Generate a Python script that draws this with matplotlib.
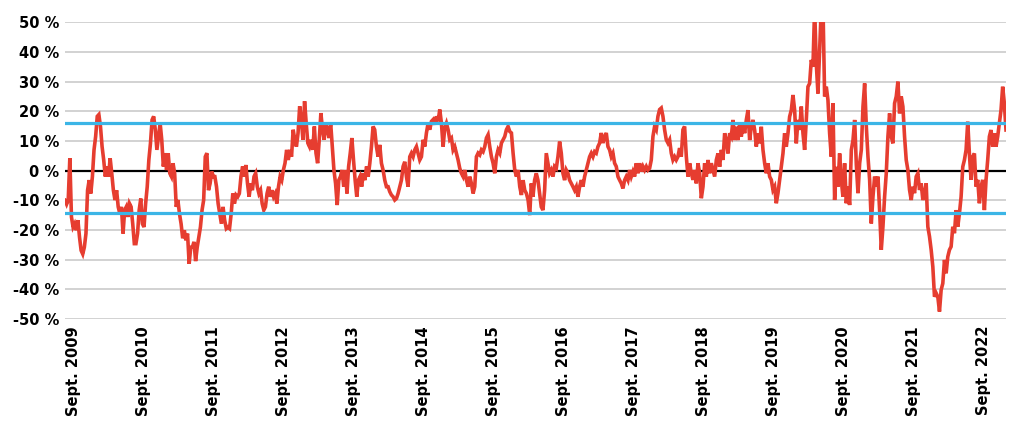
import matplotlib
matplotlib.use("Agg")
import matplotlib.pyplot as plt
import pandas as pd

# rolling return series in six stretches (start, end, values in %)
seg_2009_2011 = ("2009-07-19", "2011-09-01", [
    -10, -11.3, -9.9, 4.2, -15.6, -19, -17.9, -20.1, -16.7, -22.4, -26.9, -28.1, -25.8, -21.2,
    -6.6, -3.2, -7.7, -2.0, 7.0, 11.5, 18.3, 18.9, 14.9, 8.1, 3.6,
    -2.0, 1.4, -2.0, 4.2, -0.9, -6.6, -9.9, -6.6, -12.2, -14.5, -12.2, -21.2, -13.3, -12.2,
    -15.6, -11.1, -12.2, -17.9, -24.6, -24.6, -21.2, -13.3, -9.4, -17.9, -19,
    -11.1, -5.4, 3.6, 9.2, 17.1, 18.3, 13.8, 7.0, 11.5, 16,
    10.4, 1.4, 5.9, 0.2, 5.9, -0.9, -2.0, 2.5, -0.9, -12.2, -9.9, -14.5, -17.9, -22.8, -20.1,
    -23.5, -21.2, -31.4, -25.8, -25.8, -24, -30.5, -25.8, -22.4, -19, -13.3, -9.9, 4.7,
    5.9, -6.6, -4.3, -0.3, -2.0])

seg_2011_2013 = ("2011-09-09", "2013-12-21", [
    -2.0, -5.4, -11.1, -14.5, -17.9, -12.2, -16.7, -19.5, -19, -19.5, -14.5, -7.7, -11.1, -8.2,
    -8.8, -7.7, -2.0, 1.4, -2.0, 1.9, -4.3, -8.8, -4.3, -6.6, -2.0, -0.9, -5.4, -7.7, -6.6,
    -11.1, -13.3, -12.2, -7.7, -5.4, -8.8, -6.6, -8.8, -7.7, -11.1, -5.4, -2.0, -3.2, 0.2,
    2.5, 7.0, 3.6, 7.0, 4.7, 13.8, 10.4, 8.1, 12.7,
    21.7, 17.2, 10.4, 23.4, 16, 9.3,
    8.1, 10.4, 7.0, 14.9, 5.9, 2.5, 10.4, 19.4, 13.8, 10.4, 16, 13.8, 11, 16, 8.1, 0.2,
    -4.3, -11.6, -3.2, -2.0, 0.2, -5.4, 0.2, -7.7, 1.4, 5.9, 11, 3.6,
    -3.2, -8.8, -3.2, -2.0, -5.4, -0.9, -3.2, 1.4, -2.0, 2.5, 8.1, 14.9, 13.8])

seg_2013_2016 = ("2013-12-30", "2016-03-09", [
    8.1, 4.7, 8.7, 2.5, 0.2, -3.2, -5.4, -5.4, -7.1, -8.2, -8.8, -9.9, -9.4, -7.7, -5.4,
    -3.2, 1.4, 3.0, -2.0, -5.4, 4.7, 5.9, 4.7, 7.0, 8.1, 5.9, 3.6, 4.7, 10.4, 8.1, 12.7,
    16, 13.8, 16.6, 17.2, 15.5, 18.3, 16.6, 20.6, 16, 8.1, 14.4, 16, 13.8, 10.4, 11, 7.0,
    8.1, 5.9, 3.6, 0.8, -0.9, -2.0, 0.2, -3.2, -5.4, -2.0, -4.3, -7.7, -5.4, 4.7, 5.9,
    5.3, 7.0, 6.4, 8.1, 11, 12.1, 8.1, 4.7, 2.5, -0.9, 4.7, 7.0, 5.9, 9.3, 10.4, 11.5,
    13.8, 14.9, 13.2, 12.7, 5.9, 0.2, -2.0, 0.2, -5.4, -8.2, -3.2, -6.6, -7.7, -9.9, -15])

seg_2016_2018 = ("2016-03-17", "2018-05-26", [
    -4.3, -8.8, -3.2, -0.9, -3.2, -7.7, -12.2, -13.3, -6.6, 5.9, 2.5, -0.9, 0.2, -2.0, 1.4,
    0.8, 4.7, 9.8, 5.9, -0.9, -3.2, 0.2, -0.9, -3.2, -4.3, -5.4, -6.6, -5.4, -8.8, -5.4,
    -3.2, -5.4, -2.0, 0.2, 2.5, 4.7, 5.9, 4.7, 6.4, 5.9, 8.1, 9.3, 12.7, 9.3, 11.5, 12.7,
    8.1, 7.0, 4.7, 5.9, 2.5, 1.4, -2.0, -3.2, -4.3, -6.0, -3.2, -2.0, -3.2, 0.2, -2.0,
    -0.3, -2.0, 2.5, -0.9, 2.5, -0.3, 1.4, 0.2, 1.4, 0.2, 0.8, 3.6, 11.5, 14.9, 13.8,
    18.3, 20.6, 21.1, 18.3, 13.8, 10.4, 9.3, 10.4, 5.9, 3.6, 4.7, 3.6, 4.7, 7.6, 4.7,
    13.8, 14.9])

seg_2018_2020 = ("2018-06-04", "2020-10-03", [
    4.7, -2.0, 2.5, -0.9, -3.1, 0.2, -4.3, 2.5, -0.9, -9.3, -5.4, 2.5, -2.0, 3.6, -0.9,
    2.5, 0.2, -2.0, 3.6, 5.8, 1.3, 7.0, 3.6, 12.6, 10.3, 5.8, 12.6, 11.5, 17.1, 10.3,
    14.8, 10.3, 16, 11.5, 16, 12.6, 17.1, 20.4, 10.3, 14.8, 17.1, 13.7, 8.1, 12.6, 9.2,
    14.8, 7.0, 2.5, -0.9, 2.5, -2.0, -3.1, -6.5, -5.4, -11, -7.6, -3.1, 1.3, 5.8, 12.6,
    8.1, 12.6, 18.2, 20.4, 25.5, 20.4, 9.2, 17.1, 13.7, 21.6, 12.6, 7.0, 17.1, 28.3,
    29.4, 37.3, 35,
    55, 36, 26, 40.7, 55, 56, 25, 28.3, 23.8, 12.6, 4.7, 22.7, -9.9, 1.3, -5.4, 5.8,
    -3.1, -8.8, 2.5, -11, -5.4, -11.6])

seg_2020_2022 = ("2020-10-12", "2022-12-28", [
    7.0, 10.3, 17.1, 2.0, -7.6, 2.5, 7.0, 21.6, 29.4, 15, 4.7, -3.1, -17.8, -8.8, -2.0,
    -5.4, -2.0, -13.3, -26.7, -18.9, -8.8, -0.9, 11.5, 19.3, 11.5, 9.2, 22.7, 25, 30,
    19.3, 25, 21.6, 11.5, 3.6, 0.2, -6.5, -9.9, -5.4, -7.6, -2.0, -0.9, -6.5, -4.3, -9.9,
    -7.6, -4.3, -18.9, -22.2, -26.7, -32.4, -42.5, -41.3, -42.5, -47.5, -40.2, -38,
    -30.1, -34.6, -29, -26.7, -25.6, -18.9, -21.1, -13.3, -18.9, -14.4, -8.8, 1.3, 3.6,
    7.0, 16.5, 5.5, -3.1, 4.7, 5.8, -5.4, -3.1, -11, -5.4, -3.1, -13.3, -3.1, 3.6, 11.5,
    13.7, 8.1, 12.6, 8.1, 11.5, 16, 20.4, 28.3, 22.7, 13.7])

segments = [seg_2009_2011, seg_2011_2013, seg_2013_2016,
            seg_2016_2018, seg_2018_2020, seg_2020_2022]

upper_band = 16.2
lower_band = -14.2
tick_years = list(range(2009, 2023))
tick_labels = ["Sept. %d" % y for y in tick_years]

dates = []
vals = []
for start, end, v in segments:
    dates.extend(pd.date_range(start, end, periods=len(v)))
    vals.extend(v)

fig = plt.figure(figsize=(10.18, 4.37), dpi=100)
ax = fig.add_axes([65 / 1018, 1 - 319 / 437, 941 / 1018, 296.7 / 437])

ax.set_ylim(-50, 50)
ax.set_xlim(dates[0], dates[-1])
ax.set_yticks(range(-50, 51, 10))
ax.set_yticklabels(["%d %%" % t for t in range(-50, 51, 10)])
ax.grid(axis="y", color="#d2d2d2", lw=1.4, zorder=0)
for s in ax.spines.values():
    s.set_visible(False)
ax.tick_params(length=0, labelsize=10.5)
ax.tick_params(axis="y", pad=4)
ax.tick_params(axis="x", pad=5)
for lab in ax.get_yticklabels():
    lab.set_fontweight("bold")

ax.axhline(0, color="black", lw=1.6, zorder=2)
ax.plot(dates, vals, color="#e63d30", lw=2.6, solid_joinstyle="miter", zorder=3)
ax.axhline(upper_band, color="#3bb5e6", lw=2.3, zorder=4)
ax.axhline(lower_band, color="#3bb5e6", lw=2.3, zorder=4)

ax.set_xticks([pd.Timestamp("%d-09-01" % y) for y in tick_years])
ax.set_xticklabels(tick_labels, rotation=90, fontweight="bold", fontsize=10.5)

fig.savefig("out.png", dpi=100)
